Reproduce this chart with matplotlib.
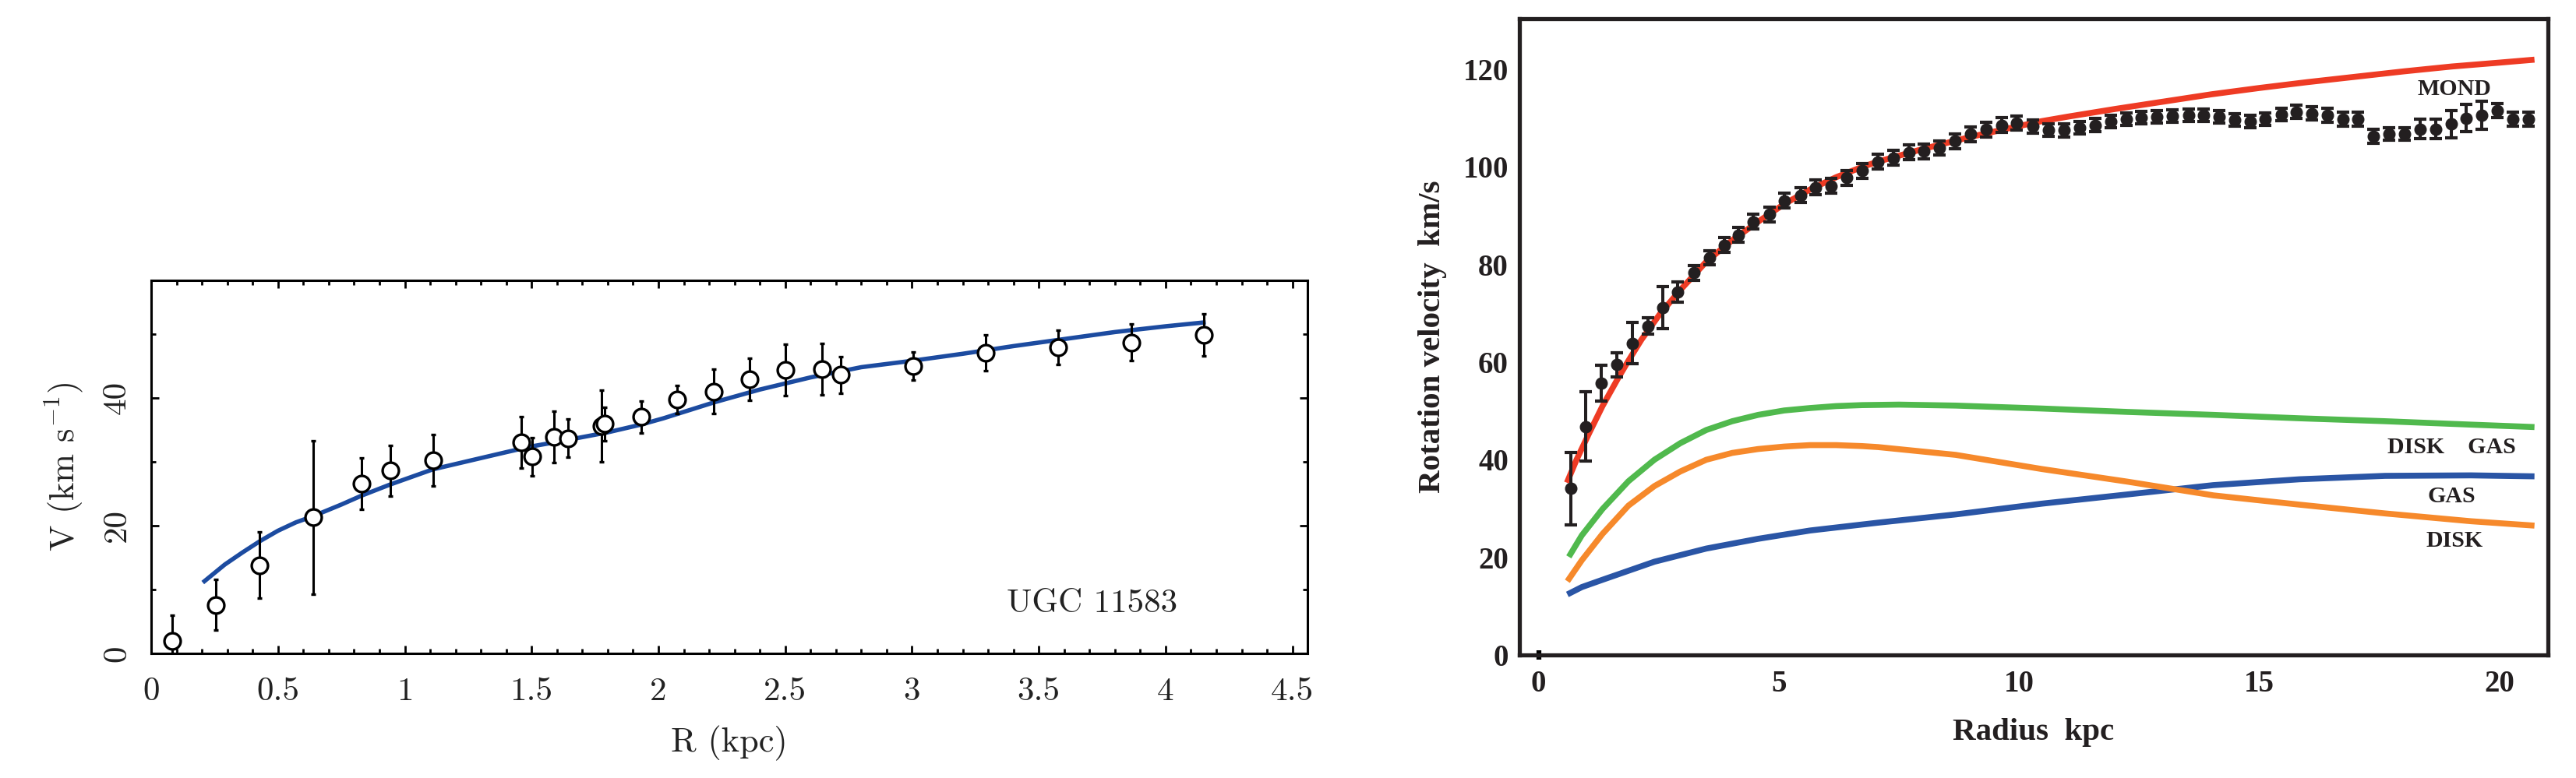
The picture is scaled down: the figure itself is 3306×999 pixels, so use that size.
import numpy as np
import matplotlib
matplotlib.use("Agg")
import matplotlib.pyplot as plt
from matplotlib.ticker import MultipleLocator

# ---- left panel: UGC 11583 ----
r_ugc = [0.083, 0.254, 0.426, 0.640, 0.829, 0.943, 1.113, 1.458, 1.502, 1.588,
         1.643, 1.776, 1.788, 1.933, 2.074, 2.217, 2.359, 2.502, 2.645, 2.719,
         3.004, 3.290, 3.576, 3.864, 4.150]
v_ugc = [2.0, 7.6, 13.8, 21.3, 26.6, 28.6, 30.2, 33.0, 30.8, 33.9,
         33.7, 35.6, 35.9, 37.0, 39.7, 41.0, 42.9, 44.4, 44.5, 43.6,
         45.0, 47.1, 47.9, 48.7, 49.9]
e_ugc = [4.0, 4.0, 5.2, 12.0, 4.0, 4.0, 4.0, 4.0, 3.0, 4.0,
         3.0, 5.6, 2.6, 2.5, 2.2, 3.5, 3.3, 4.0, 4.0, 2.9,
         2.2, 2.8, 2.7, 2.9, 3.3]
r_fit = [0.21, 0.29, 0.36, 0.43, 0.50, 0.57, 0.64, 0.75, 0.83, 0.94, 1.11, 1.26,
         1.40, 1.50, 1.60, 1.80, 1.93, 2.02, 2.22, 2.40, 2.60, 2.80, 3.00,
         3.20, 3.40, 3.60, 3.80, 4.00, 4.15]
v_fit = [11.3, 13.9, 15.8, 17.6, 19.2, 20.5, 21.5, 23.3, 24.7, 26.4, 28.8, 30.2,
         31.5, 32.4, 33.1, 34.6, 35.8, 36.8, 39.3, 41.3, 43.2, 44.8, 45.8,
         46.9, 48.1, 49.2, 50.3, 51.2, 51.8]

# ---- right panel: rotation curve with MOND fit ----
r_obs = [0.67, 0.98, 1.30, 1.63, 1.95, 2.27, 2.58, 2.90, 3.23, 3.55,
         3.87, 4.16, 4.47, 4.80, 5.12, 5.45, 5.77, 6.09, 6.41, 6.73,
         7.06, 7.38, 7.70, 8.02, 8.34, 8.66, 8.99, 9.31, 9.63, 9.95,
         10.29, 10.61, 10.93, 11.25, 11.59, 11.90, 12.23, 12.54, 12.87, 13.19,
         13.52, 13.84, 14.16, 14.48, 14.80, 15.12, 15.45, 15.77, 16.09, 16.41,
         16.73, 17.05, 17.37, 17.70, 18.01, 18.34, 18.66, 18.99, 19.30, 19.63,
         19.95, 20.27, 20.59]
v_obs = [34.1, 46.8, 55.7, 59.5, 63.9, 67.4, 71.2, 74.4, 78.3, 81.4,
         84.0, 86.1, 88.8, 90.3, 93.1, 94.2, 95.8, 96.1, 97.8, 99.2,
         101.1, 101.9, 103.0, 103.2, 103.9, 105.3, 106.7, 107.7, 108.6, 109.0,
         108.3, 107.6, 107.5, 108.0, 108.6, 109.3, 109.8, 110.1, 110.3, 110.4,
         110.6, 110.6, 110.3, 109.6, 109.3, 109.8, 110.8, 111.3, 111.0, 110.6,
         109.8, 109.8, 106.3, 106.8, 106.8, 107.8, 107.8, 108.8, 110.0, 110.6,
         111.6, 109.8, 109.8]
e_obs = [7.4, 7.1, 3.6, 2.5, 4.2, 1.7, 4.3, 2.1, 1.5, 1.5,
         1.5, 1.5, 1.5, 1.5, 1.5, 1.5, 1.5, 1.5, 1.5, 1.5,
         1.5, 1.5, 1.5, 1.5, 1.5, 1.5, 1.5, 1.5, 1.5, 1.5,
         1.3, 1.3, 1.3, 1.3, 1.3, 1.3, 1.3, 1.3, 1.3, 1.3,
         1.3, 1.3, 1.3, 1.3, 1.3, 1.3, 1.3, 1.3, 1.3, 1.5,
         1.5, 1.5, 1.5, 1.3, 1.3, 2.0, 2.0, 2.8, 2.8, 2.8,
         1.4, 1.4, 1.4]

r_mond = [0.59, 0.79, 1.06, 1.33, 1.66, 1.87, 2.14, 2.52, 2.95, 3.49, 4.03, 4.57,
          5.11, 5.65, 6.19, 6.73, 7.06, 8.0, 9.0, 10.0, 10.47, 11.0, 12.0, 13.0,
          14.0, 15.0, 16.0, 17.0, 18.0, 19.0, 20.0, 20.72]
v_mond = [35.3, 40.0, 45.6, 51.0, 56.8, 60.3, 64.6, 69.8, 74.8, 80.6, 85.0, 88.8,
          92.4, 95.4, 97.9, 100.0, 101.1, 103.7, 106.2, 108.4, 109.4, 110.3, 111.9, 113.4,
          114.9, 116.2, 117.4, 118.5, 119.6, 120.6, 121.4, 122.0]

r_total = [0.63, 0.90, 1.33, 1.87, 2.41, 2.95, 3.49, 4.03, 4.57, 5.11, 5.65, 6.19,
           6.73, 7.5, 8.68, 10.47, 12.26, 14.04, 15.83, 17.61, 19.4, 20.72]
v_total = [20.1, 24.5, 29.9, 35.6, 40.0, 43.4, 46.1, 47.9, 49.2, 50.1, 50.6, 51.0,
           51.2, 51.3, 51.1, 50.5, 49.8, 49.2, 48.5, 47.9, 47.2, 46.7]

r_disk = [0.60, 0.90, 1.33, 1.87, 2.41, 2.95, 3.49, 4.03, 4.57, 5.11, 5.65, 6.19,
          6.73, 7.06, 8.68, 10.47, 12.26, 14.04, 15.83, 17.61, 19.40, 20.72]
v_disk = [15.1, 19.4, 24.8, 30.6, 34.6, 37.6, 40.0, 41.4, 42.2, 42.7, 43.0, 43.0,
          42.8, 42.6, 41.0, 38.1, 35.5, 32.7, 30.8, 29.0, 27.4, 26.5]

r_gas = [0.60, 0.90, 1.33, 2.41, 3.49, 4.57, 5.65, 7.06, 8.68, 10.47, 12.26, 14.04,
         15.83, 17.61, 19.40, 20.72]
v_gas = [12.4, 13.9, 15.4, 19.1, 21.8, 23.8, 25.5, 27.1, 28.8, 31.0, 32.9, 34.8,
         36.0, 36.7, 36.8, 36.6]

comp_labels = ["MOND", "DISK    GAS", "GAS", "DISK"]
label_x = [19.06, 19.0, 19.0, 19.06]
label_y = [115.9, 42.6, 32.5, 23.3]

plt.rcParams["axes.unicode_minus"] = False
plt.rcParams["mathtext.fontset"] = "cm"

fig = plt.figure(figsize=(33.06, 9.99), dpi=100)

# ---------------- left ----------------
ax1 = fig.add_axes([0.0587, 0.1602, 0.4489, 0.4795])
ax1.plot(r_fit, v_fit, color="#1c4ba0", lw=4.0, zorder=2)
ax1.errorbar(r_ugc, v_ugc, yerr=e_ugc, fmt="o", ms=15, mfc="white", mec="black",
             mew=2.4, ecolor="black", elinewidth=2.2, capsize=2, capthick=2.2, zorder=3)
ax1.set_xlim(0, 4.56)
ax1.set_ylim(0, 58.4)
ax1.xaxis.set_major_locator(MultipleLocator(0.5))
ax1.xaxis.set_minor_locator(MultipleLocator(0.1))
ax1.yaxis.set_major_locator(MultipleLocator(20))
ax1.yaxis.set_minor_locator(MultipleLocator(10))
ax1.set_xticks([0, 0.5, 1, 1.5, 2, 2.5, 3, 3.5, 4, 4.5])
ax1.set_xticklabels(["0", "0.5", "1", "1.5", "2", "2.5", "3", "3.5", "4", "4.5"])
ax1.set_yticks([0, 20, 40])
ax1.set_yticklabels(["0", "20", "40"])
ax1.tick_params(which="both", direction="in", top=True, right=True, width=2,
                labelsize=31, labelcolor="#222222")
ax1.tick_params(which="major", length=7)
ax1.tick_params(which="minor", length=4.5)
ax1.tick_params(axis="x", pad=22)
ax1.tick_params(axis="y", pad=18, labelrotation=90)
for lab in ax1.get_xticklabels() + ax1.get_yticklabels():
    lab.set_fontfamily("cmr10")
for lab in ax1.get_yticklabels():
    lab.set_va("center")
for s in ax1.spines.values():
    s.set_linewidth(2.2)
ax1.set_xlabel("R (kpc)", fontsize=32, fontfamily="cmr10", labelpad=18, color="#222222")
ax1.set_ylabel(r"V (km s$^{-1}$)", fontsize=32, fontfamily="cmr10", labelpad=16,
               color="#222222")
ax1.text(3.71, 7.8, "UGC 11583", fontsize=31, fontfamily="cmr10", ha="center",
         va="center", color="#222222")

# ---------------- right ----------------
serif_bold = dict(fontfamily="Liberation Serif", fontweight="bold", color="#231f20")
ax2 = fig.add_axes([0.5898, 0.1582, 0.3993, 0.8178])
ax2.plot(r_mond, v_mond, color="#ee3b24", lw=5.5, zorder=2, solid_capstyle="butt")
ax2.plot(r_total, v_total, color="#50b94d", lw=5.5, zorder=2, solid_capstyle="butt")
ax2.plot(r_disk, v_disk, color="#f6892b", lw=5.5, zorder=2, solid_capstyle="butt")
ax2.plot(r_gas, v_gas, color="#2a55a5", lw=5.5, zorder=1, solid_capstyle="butt")
ax2.errorbar(r_obs, v_obs, yerr=e_obs, fmt="o", ms=10.5, color="#231f20",
             ecolor="#231f20", elinewidth=2.9, capsize=5.8, capthick=3, zorder=3)
for t, x, y in zip(comp_labels, label_x, label_y):
    ax2.text(x, y, t, fontsize=21.5, ha="center", va="center", **serif_bold)
ax2.set_xlim(-0.4, 21.0)
ax2.set_ylim(0, 130.4)
ax2.set_xticks([0, 5, 10, 15, 20])
ax2.set_yticks([0, 20, 40, 60, 80, 100, 120])
ax2.tick_params(which="both", length=0, labelsize=28, labelcolor="#231f20")
ax2.tick_params(axis="x", pad=14)
ax2.tick_params(axis="y", pad=10)
for lab in ax2.get_xticklabels() + ax2.get_yticklabels():
    lab.set_fontfamily("Liberation Serif")
    lab.set_fontweight("bold")
t0 = ax2.xaxis.get_major_ticks()[0]
t0.tick1line.set_marker("|")
t0.tick1line.set_markersize(8)
t0.tick1line.set_markeredgewidth(4.5)
t0.tick1line.set_color("#231f20")
for s in ax2.spines.values():
    s.set_linewidth(3.8)
    s.set_color("#231f20")
ax2.set_xlabel("Radius  kpc", fontsize=29.5, labelpad=18, **serif_bold)
ax2.set_ylabel("Rotation velocity  km/s", fontsize=29.5, labelpad=15, **serif_bold)

fig.savefig("out.png", dpi=100)
